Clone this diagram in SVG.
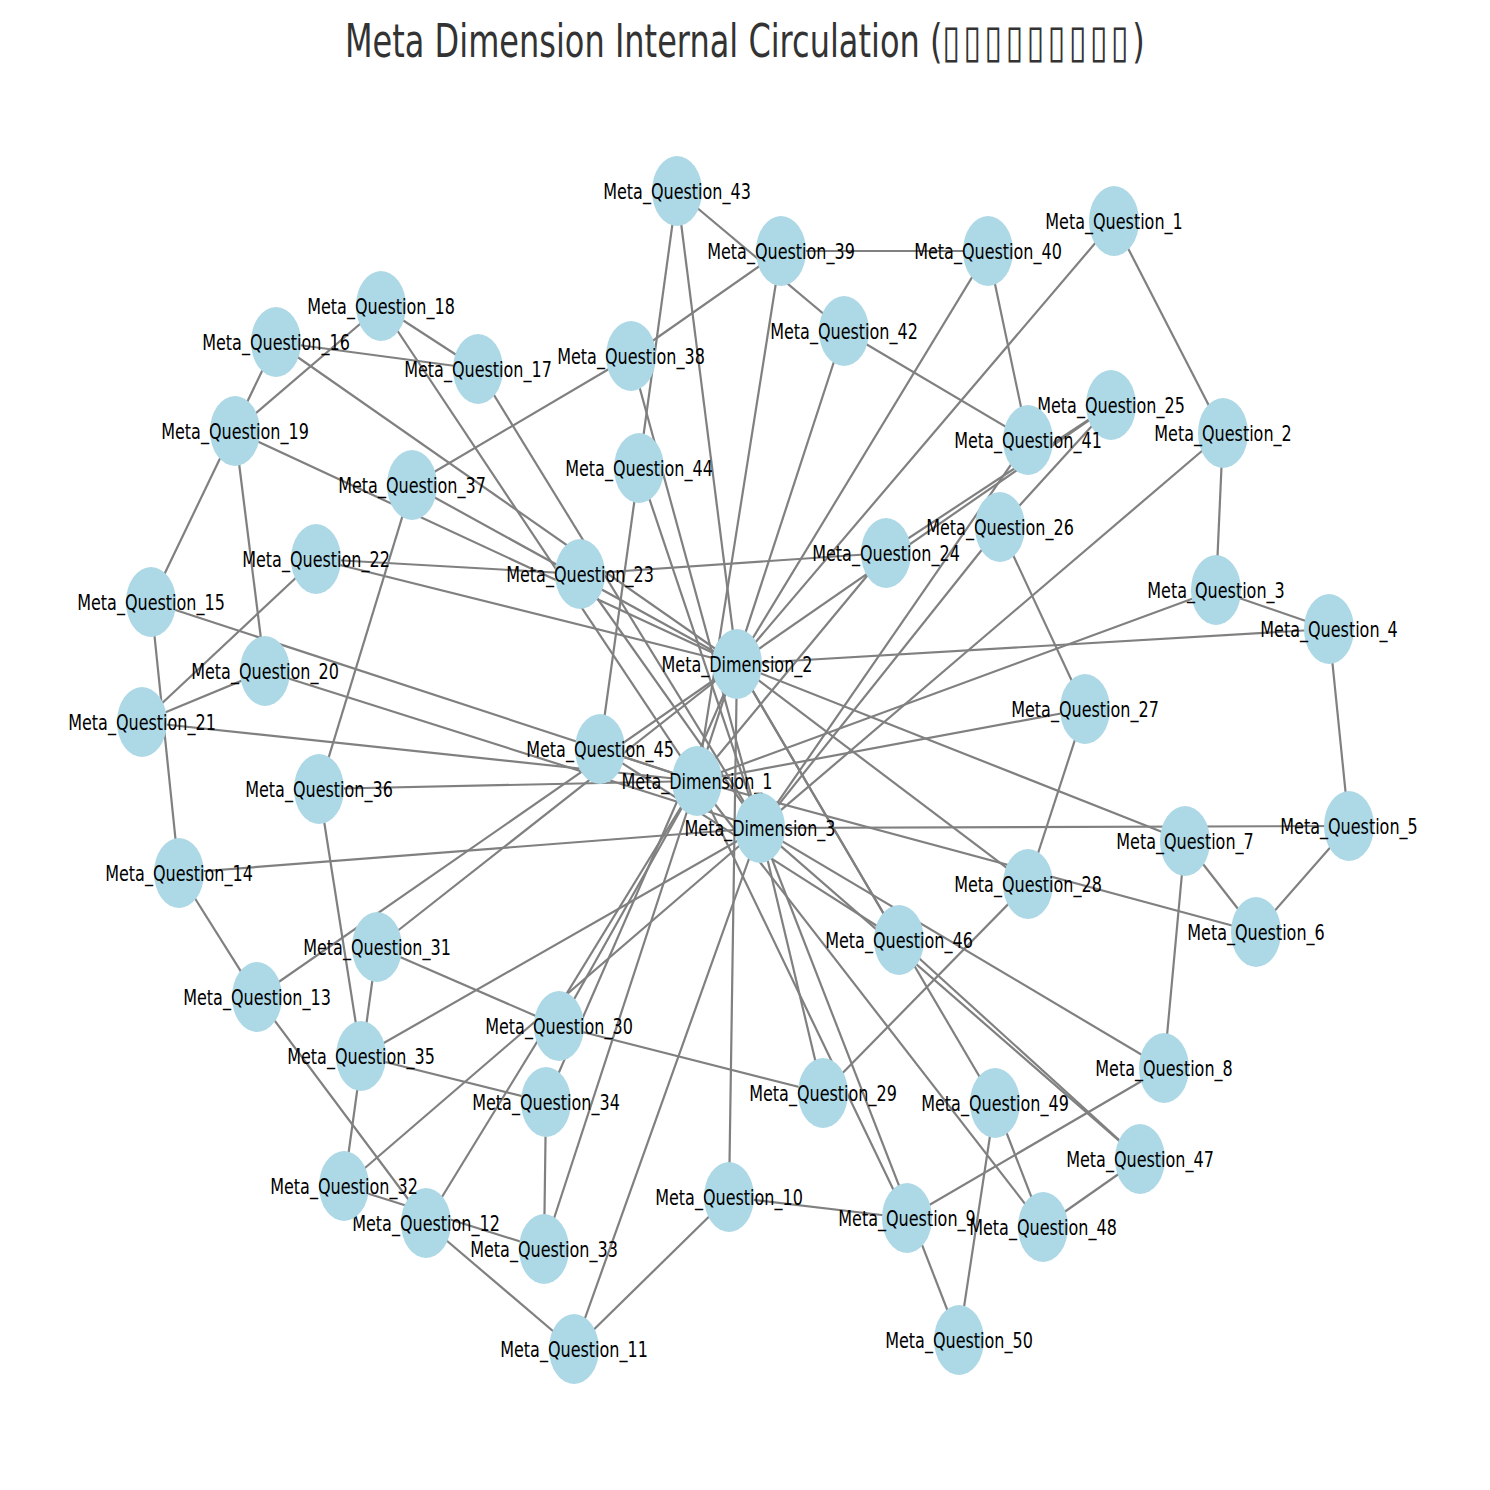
<svg xmlns="http://www.w3.org/2000/svg" width="1490" height="1490" viewBox="0 0 1490 1490">
<style>
.bg{fill:#ffffff}
.edges line{stroke:#808080;stroke-width:2.2;stroke-linecap:butt}
.node ellipse{fill:#add8e6}
.node text{font-family:"DejaVu Sans","Liberation Sans",sans-serif;font-size:21.5px;text-anchor:middle;fill:#000000}
.title{font-family:"DejaVu Sans","Liberation Sans",sans-serif;font-size:46px;fill:#333333}
.tofu{font-family:"DejaVu Sans",sans-serif;letter-spacing:5px}
</style>
<rect class="bg" x="0" y="0" width="1490" height="1490"/>
<text class="title" transform="translate(345 57) scale(0.696 1)">Meta Dimension Internal Circulation (<tspan class="tofu">▯▯▯▯▯▯▯▯▯</tspan>)</text>
<g id="edges" class="edges">
<line x1="1114" y1="221" x2="1223" y2="433"/>
<line x1="1223" y1="433" x2="1216" y2="590"/>
<line x1="1216" y1="590" x2="1329" y2="629"/>
<line x1="1329" y1="629" x2="1349" y2="826"/>
<line x1="1349" y1="826" x2="1256" y2="932"/>
<line x1="1256" y1="932" x2="1185" y2="841"/>
<line x1="1185" y1="841" x2="1164" y2="1068"/>
<line x1="1164" y1="1068" x2="907" y2="1218"/>
<line x1="907" y1="1218" x2="729" y2="1197"/>
<line x1="729" y1="1197" x2="574" y2="1349"/>
<line x1="574" y1="1349" x2="426" y2="1223"/>
<line x1="426" y1="1223" x2="257" y2="997"/>
<line x1="257" y1="997" x2="179" y2="873"/>
<line x1="179" y1="873" x2="151" y2="602"/>
<line x1="151" y1="602" x2="276" y2="342"/>
<line x1="276" y1="342" x2="478" y2="369"/>
<line x1="478" y1="369" x2="381" y2="306"/>
<line x1="381" y1="306" x2="235" y2="431"/>
<line x1="235" y1="431" x2="265" y2="671"/>
<line x1="265" y1="671" x2="142" y2="722"/>
<line x1="142" y1="722" x2="316" y2="559"/>
<line x1="316" y1="559" x2="580" y2="574"/>
<line x1="580" y1="574" x2="886" y2="553"/>
<line x1="886" y1="553" x2="1111" y2="405"/>
<line x1="1111" y1="405" x2="1000" y2="527"/>
<line x1="1000" y1="527" x2="1085" y2="709"/>
<line x1="1085" y1="709" x2="1028" y2="884"/>
<line x1="1028" y1="884" x2="823" y2="1093"/>
<line x1="823" y1="1093" x2="559" y2="1026"/>
<line x1="559" y1="1026" x2="377" y2="947"/>
<line x1="377" y1="947" x2="344" y2="1186"/>
<line x1="344" y1="1186" x2="544" y2="1249"/>
<line x1="544" y1="1249" x2="546" y2="1102"/>
<line x1="546" y1="1102" x2="361" y2="1056"/>
<line x1="361" y1="1056" x2="319" y2="789"/>
<line x1="319" y1="789" x2="412" y2="485"/>
<line x1="412" y1="485" x2="631" y2="356"/>
<line x1="631" y1="356" x2="781" y2="251"/>
<line x1="781" y1="251" x2="988" y2="251"/>
<line x1="988" y1="251" x2="1028" y2="440"/>
<line x1="1028" y1="440" x2="844" y2="331"/>
<line x1="844" y1="331" x2="677" y2="191"/>
<line x1="677" y1="191" x2="639" y2="468"/>
<line x1="639" y1="468" x2="600" y2="749"/>
<line x1="600" y1="749" x2="899" y2="940"/>
<line x1="899" y1="940" x2="1140" y2="1159"/>
<line x1="1140" y1="1159" x2="1043" y2="1227"/>
<line x1="1043" y1="1227" x2="995" y2="1103"/>
<line x1="995" y1="1103" x2="959" y2="1340"/>
<line x1="1114" y1="221" x2="737" y2="664"/>
<line x1="1223" y1="433" x2="760" y2="828"/>
<line x1="1216" y1="590" x2="697" y2="781"/>
<line x1="1329" y1="629" x2="737" y2="664"/>
<line x1="1349" y1="826" x2="760" y2="828"/>
<line x1="1256" y1="932" x2="697" y2="781"/>
<line x1="1185" y1="841" x2="737" y2="664"/>
<line x1="1164" y1="1068" x2="760" y2="828"/>
<line x1="907" y1="1218" x2="697" y2="781"/>
<line x1="729" y1="1197" x2="737" y2="664"/>
<line x1="574" y1="1349" x2="760" y2="828"/>
<line x1="426" y1="1223" x2="697" y2="781"/>
<line x1="257" y1="997" x2="737" y2="664"/>
<line x1="179" y1="873" x2="760" y2="828"/>
<line x1="151" y1="602" x2="697" y2="781"/>
<line x1="276" y1="342" x2="737" y2="664"/>
<line x1="478" y1="369" x2="760" y2="828"/>
<line x1="381" y1="306" x2="697" y2="781"/>
<line x1="235" y1="431" x2="737" y2="664"/>
<line x1="265" y1="671" x2="760" y2="828"/>
<line x1="142" y1="722" x2="697" y2="781"/>
<line x1="316" y1="559" x2="737" y2="664"/>
<line x1="580" y1="574" x2="760" y2="828"/>
<line x1="886" y1="553" x2="697" y2="781"/>
<line x1="1111" y1="405" x2="737" y2="664"/>
<line x1="1000" y1="527" x2="760" y2="828"/>
<line x1="1085" y1="709" x2="697" y2="781"/>
<line x1="1028" y1="884" x2="737" y2="664"/>
<line x1="823" y1="1093" x2="760" y2="828"/>
<line x1="559" y1="1026" x2="697" y2="781"/>
<line x1="377" y1="947" x2="737" y2="664"/>
<line x1="344" y1="1186" x2="760" y2="828"/>
<line x1="544" y1="1249" x2="697" y2="781"/>
<line x1="546" y1="1102" x2="737" y2="664"/>
<line x1="361" y1="1056" x2="760" y2="828"/>
<line x1="319" y1="789" x2="697" y2="781"/>
<line x1="412" y1="485" x2="737" y2="664"/>
<line x1="631" y1="356" x2="760" y2="828"/>
<line x1="781" y1="251" x2="697" y2="781"/>
<line x1="988" y1="251" x2="737" y2="664"/>
<line x1="1028" y1="440" x2="760" y2="828"/>
<line x1="844" y1="331" x2="697" y2="781"/>
<line x1="677" y1="191" x2="737" y2="664"/>
<line x1="639" y1="468" x2="760" y2="828"/>
<line x1="600" y1="749" x2="697" y2="781"/>
<line x1="899" y1="940" x2="737" y2="664"/>
<line x1="1140" y1="1159" x2="760" y2="828"/>
<line x1="1043" y1="1227" x2="697" y2="781"/>
<line x1="995" y1="1103" x2="737" y2="664"/>
<line x1="959" y1="1340" x2="760" y2="828"/>
</g>
<g id="nodes">
<g id="Meta_Dimension_1" class="node"><ellipse cx="697" cy="781" rx="25" ry="35"/><text transform="translate(697 789) scale(0.745 1)">Meta_Dimension_1</text></g>
<g id="Meta_Dimension_2" class="node"><ellipse cx="737" cy="664" rx="25" ry="35"/><text transform="translate(737 672) scale(0.745 1)">Meta_Dimension_2</text></g>
<g id="Meta_Dimension_3" class="node"><ellipse cx="760" cy="828" rx="25" ry="35"/><text transform="translate(760 836) scale(0.745 1)">Meta_Dimension_3</text></g>
<g id="Meta_Question_1" class="node"><ellipse cx="1114" cy="221" rx="25" ry="35"/><text transform="translate(1114 229) scale(0.745 1)">Meta_Question_1</text></g>
<g id="Meta_Question_2" class="node"><ellipse cx="1223" cy="433" rx="25" ry="35"/><text transform="translate(1223 441) scale(0.745 1)">Meta_Question_2</text></g>
<g id="Meta_Question_3" class="node"><ellipse cx="1216" cy="590" rx="25" ry="35"/><text transform="translate(1216 598) scale(0.745 1)">Meta_Question_3</text></g>
<g id="Meta_Question_4" class="node"><ellipse cx="1329" cy="629" rx="25" ry="35"/><text transform="translate(1329 637) scale(0.745 1)">Meta_Question_4</text></g>
<g id="Meta_Question_5" class="node"><ellipse cx="1349" cy="826" rx="25" ry="35"/><text transform="translate(1349 834) scale(0.745 1)">Meta_Question_5</text></g>
<g id="Meta_Question_6" class="node"><ellipse cx="1256" cy="932" rx="25" ry="35"/><text transform="translate(1256 940) scale(0.745 1)">Meta_Question_6</text></g>
<g id="Meta_Question_7" class="node"><ellipse cx="1185" cy="841" rx="25" ry="35"/><text transform="translate(1185 849) scale(0.745 1)">Meta_Question_7</text></g>
<g id="Meta_Question_8" class="node"><ellipse cx="1164" cy="1068" rx="25" ry="35"/><text transform="translate(1164 1076) scale(0.745 1)">Meta_Question_8</text></g>
<g id="Meta_Question_9" class="node"><ellipse cx="907" cy="1218" rx="25" ry="35"/><text transform="translate(907 1226) scale(0.745 1)">Meta_Question_9</text></g>
<g id="Meta_Question_10" class="node"><ellipse cx="729" cy="1197" rx="25" ry="35"/><text transform="translate(729 1205) scale(0.745 1)">Meta_Question_10</text></g>
<g id="Meta_Question_11" class="node"><ellipse cx="574" cy="1349" rx="25" ry="35"/><text transform="translate(574 1357) scale(0.745 1)">Meta_Question_11</text></g>
<g id="Meta_Question_12" class="node"><ellipse cx="426" cy="1223" rx="25" ry="35"/><text transform="translate(426 1231) scale(0.745 1)">Meta_Question_12</text></g>
<g id="Meta_Question_13" class="node"><ellipse cx="257" cy="997" rx="25" ry="35"/><text transform="translate(257 1005) scale(0.745 1)">Meta_Question_13</text></g>
<g id="Meta_Question_14" class="node"><ellipse cx="179" cy="873" rx="25" ry="35"/><text transform="translate(179 881) scale(0.745 1)">Meta_Question_14</text></g>
<g id="Meta_Question_15" class="node"><ellipse cx="151" cy="602" rx="25" ry="35"/><text transform="translate(151 610) scale(0.745 1)">Meta_Question_15</text></g>
<g id="Meta_Question_16" class="node"><ellipse cx="276" cy="342" rx="25" ry="35"/><text transform="translate(276 350) scale(0.745 1)">Meta_Question_16</text></g>
<g id="Meta_Question_17" class="node"><ellipse cx="478" cy="369" rx="25" ry="35"/><text transform="translate(478 377) scale(0.745 1)">Meta_Question_17</text></g>
<g id="Meta_Question_18" class="node"><ellipse cx="381" cy="306" rx="25" ry="35"/><text transform="translate(381 314) scale(0.745 1)">Meta_Question_18</text></g>
<g id="Meta_Question_19" class="node"><ellipse cx="235" cy="431" rx="25" ry="35"/><text transform="translate(235 439) scale(0.745 1)">Meta_Question_19</text></g>
<g id="Meta_Question_20" class="node"><ellipse cx="265" cy="671" rx="25" ry="35"/><text transform="translate(265 679) scale(0.745 1)">Meta_Question_20</text></g>
<g id="Meta_Question_21" class="node"><ellipse cx="142" cy="722" rx="25" ry="35"/><text transform="translate(142 730) scale(0.745 1)">Meta_Question_21</text></g>
<g id="Meta_Question_22" class="node"><ellipse cx="316" cy="559" rx="25" ry="35"/><text transform="translate(316 567) scale(0.745 1)">Meta_Question_22</text></g>
<g id="Meta_Question_23" class="node"><ellipse cx="580" cy="574" rx="25" ry="35"/><text transform="translate(580 582) scale(0.745 1)">Meta_Question_23</text></g>
<g id="Meta_Question_24" class="node"><ellipse cx="886" cy="553" rx="25" ry="35"/><text transform="translate(886 561) scale(0.745 1)">Meta_Question_24</text></g>
<g id="Meta_Question_25" class="node"><ellipse cx="1111" cy="405" rx="25" ry="35"/><text transform="translate(1111 413) scale(0.745 1)">Meta_Question_25</text></g>
<g id="Meta_Question_26" class="node"><ellipse cx="1000" cy="527" rx="25" ry="35"/><text transform="translate(1000 535) scale(0.745 1)">Meta_Question_26</text></g>
<g id="Meta_Question_27" class="node"><ellipse cx="1085" cy="709" rx="25" ry="35"/><text transform="translate(1085 717) scale(0.745 1)">Meta_Question_27</text></g>
<g id="Meta_Question_28" class="node"><ellipse cx="1028" cy="884" rx="25" ry="35"/><text transform="translate(1028 892) scale(0.745 1)">Meta_Question_28</text></g>
<g id="Meta_Question_29" class="node"><ellipse cx="823" cy="1093" rx="25" ry="35"/><text transform="translate(823 1101) scale(0.745 1)">Meta_Question_29</text></g>
<g id="Meta_Question_30" class="node"><ellipse cx="559" cy="1026" rx="25" ry="35"/><text transform="translate(559 1034) scale(0.745 1)">Meta_Question_30</text></g>
<g id="Meta_Question_31" class="node"><ellipse cx="377" cy="947" rx="25" ry="35"/><text transform="translate(377 955) scale(0.745 1)">Meta_Question_31</text></g>
<g id="Meta_Question_32" class="node"><ellipse cx="344" cy="1186" rx="25" ry="35"/><text transform="translate(344 1194) scale(0.745 1)">Meta_Question_32</text></g>
<g id="Meta_Question_33" class="node"><ellipse cx="544" cy="1249" rx="25" ry="35"/><text transform="translate(544 1257) scale(0.745 1)">Meta_Question_33</text></g>
<g id="Meta_Question_34" class="node"><ellipse cx="546" cy="1102" rx="25" ry="35"/><text transform="translate(546 1110) scale(0.745 1)">Meta_Question_34</text></g>
<g id="Meta_Question_35" class="node"><ellipse cx="361" cy="1056" rx="25" ry="35"/><text transform="translate(361 1064) scale(0.745 1)">Meta_Question_35</text></g>
<g id="Meta_Question_36" class="node"><ellipse cx="319" cy="789" rx="25" ry="35"/><text transform="translate(319 797) scale(0.745 1)">Meta_Question_36</text></g>
<g id="Meta_Question_37" class="node"><ellipse cx="412" cy="485" rx="25" ry="35"/><text transform="translate(412 493) scale(0.745 1)">Meta_Question_37</text></g>
<g id="Meta_Question_38" class="node"><ellipse cx="631" cy="356" rx="25" ry="35"/><text transform="translate(631 364) scale(0.745 1)">Meta_Question_38</text></g>
<g id="Meta_Question_39" class="node"><ellipse cx="781" cy="251" rx="25" ry="35"/><text transform="translate(781 259) scale(0.745 1)">Meta_Question_39</text></g>
<g id="Meta_Question_40" class="node"><ellipse cx="988" cy="251" rx="25" ry="35"/><text transform="translate(988 259) scale(0.745 1)">Meta_Question_40</text></g>
<g id="Meta_Question_41" class="node"><ellipse cx="1028" cy="440" rx="25" ry="35"/><text transform="translate(1028 448) scale(0.745 1)">Meta_Question_41</text></g>
<g id="Meta_Question_42" class="node"><ellipse cx="844" cy="331" rx="25" ry="35"/><text transform="translate(844 339) scale(0.745 1)">Meta_Question_42</text></g>
<g id="Meta_Question_43" class="node"><ellipse cx="677" cy="191" rx="25" ry="35"/><text transform="translate(677 199) scale(0.745 1)">Meta_Question_43</text></g>
<g id="Meta_Question_44" class="node"><ellipse cx="639" cy="468" rx="25" ry="35"/><text transform="translate(639 476) scale(0.745 1)">Meta_Question_44</text></g>
<g id="Meta_Question_45" class="node"><ellipse cx="600" cy="749" rx="25" ry="35"/><text transform="translate(600 757) scale(0.745 1)">Meta_Question_45</text></g>
<g id="Meta_Question_46" class="node"><ellipse cx="899" cy="940" rx="25" ry="35"/><text transform="translate(899 948) scale(0.745 1)">Meta_Question_46</text></g>
<g id="Meta_Question_47" class="node"><ellipse cx="1140" cy="1159" rx="25" ry="35"/><text transform="translate(1140 1167) scale(0.745 1)">Meta_Question_47</text></g>
<g id="Meta_Question_48" class="node"><ellipse cx="1043" cy="1227" rx="25" ry="35"/><text transform="translate(1043 1235) scale(0.745 1)">Meta_Question_48</text></g>
<g id="Meta_Question_49" class="node"><ellipse cx="995" cy="1103" rx="25" ry="35"/><text transform="translate(995 1111) scale(0.745 1)">Meta_Question_49</text></g>
<g id="Meta_Question_50" class="node"><ellipse cx="959" cy="1340" rx="25" ry="35"/><text transform="translate(959 1348) scale(0.745 1)">Meta_Question_50</text></g>
</g>
</svg>
